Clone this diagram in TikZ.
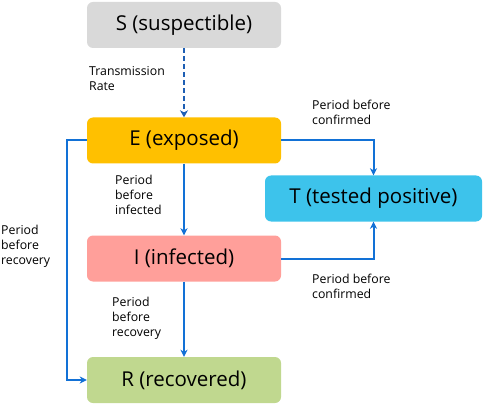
\documentclass[tikz,border=0pt]{standalone}
\usepackage{fontspec}
\setmainfont{Open Sans}
\usepackage{tikz}
\usetikzlibrary{arrows.meta}
\usetikzlibrary{calc}

\definecolor{susgray}{HTML}{D9D9D9}
\definecolor{expyellow}{HTML}{FFC000}
\definecolor{infpink}{HTML}{FF9F9A}
\definecolor{recgreen}{HTML}{C0D88F}
\definecolor{testblue}{HTML}{3DC3EB}
\definecolor{flowblue}{HTML}{1271D6}
\definecolor{ratedark}{HTML}{1E5FB4}

\begin{document}
\begin{tikzpicture}[x=1pt, y=-1pt,
    stagebox/.style={rounded corners=6pt, minimum width=194pt, minimum height=46pt,
                     inner sep=0pt, font=\fontsize{20.5}{24}\selectfont},
    flow/.style={draw=flowblue, line width=2pt, -{Stealth[length=7pt,width=7pt,inset=2pt]}},
    rate/.style={draw=ratedark, line width=2.4pt, dash pattern=on 5pt off 3pt,
                 -{Stealth[length=7pt,width=8pt,inset=2pt]}},
    note/.style={anchor=north west, align=left, inner sep=0pt,
                 font=\fontsize{12.3}{15}\selectfont}]

  \useasboundingbox (0,0) rectangle (484,406);

  % Compartments
  \node[stagebox, fill=susgray]   (S) at (184,25)    {S (suspectible)};
  \node[stagebox, fill=expyellow] (E) at (184,140.5) {E (exposed)};
  \node[stagebox, fill=infpink]   (I) at (184,258.5) {I (infected)};
  \node[stagebox, fill=recgreen]  (R) at (184,380)   {R (recovered)};
  \node[stagebox, fill=testblue, minimum width=217pt] (T) at (373.5,198.5) {T (tested positive)};

  % Bend of the outer path
  \coordinate (Bend) at (67,140.5);

  % Transitions
  \draw[rate] (S) -- (E);
  \draw[flow] (E) -- (I);
  \draw[flow] (I) -- (R);
  \draw[flow] (E.east) -| (T.north);
  \draw[flow] (I.east) -| (T.south);
  \draw[flow] (E.west) -- (Bend) |- (R.west);

  % Labels
  \node[note] (rateText)  at (89,66)   {Transmission\\Rate};
  \node[note] (confTop)   at (312,100) {Period before\\confirmed};
  \node[note] (infText)   at (115,175) {Period\\before\\infected};
  \node[note] (recLeft)   at (1,225)   {Period\\before\\recovery};
  \node[note] (confBot)   at (312,274) {Period before\\confirmed};
  \node[note] (recMid)    at (112,297) {Period\\before\\recovery};

\end{tikzpicture}
\end{document}
